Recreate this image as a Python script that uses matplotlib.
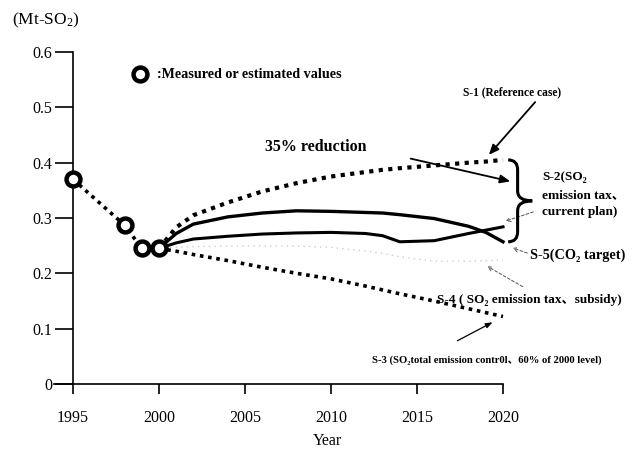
import matplotlib
matplotlib.use('Agg')
import matplotlib.pyplot as plt
from matplotlib.path import Path
from matplotlib.patches import PathPatch

plt.rcParams['font.family'] = ['Liberation Serif', 'DejaVu Serif', 'Noto Sans CJK JP']
plt.rcParams['mathtext.default'] = 'regular'

# ==============================
# Data
# ==============================
years_measured = [1995, 1998, 1999, 2000]
so2_measured = [0.37, 0.287, 0.245, 0.245]

proj_years = [2000, 2001, 2002, 2004, 2006, 2008, 2010, 2012, 2013, 2014, 2016, 2018, 2019, 2020]
s1_reference = [0.245, 0.283, 0.305, 0.328, 0.348, 0.363, 0.375, 0.383, 0.387, 0.390, 0.395, 0.400, 0.402, 0.405]
s3_total_control = [0.245, 0.240, 0.234, 0.223, 0.211, 0.200, 0.190, 0.177, 0.170, 0.163, 0.150, 0.136, 0.129, 0.122]
s5_co2_target = [0.245, 0.272, 0.289, 0.302, 0.309, 0.313, 0.312, 0.310, 0.309, 0.306, 0.299, 0.285, 0.274, 0.257]
s2_tax_plan = [0.245, 0.255, 0.262, 0.267, 0.271, 0.273, 0.274, 0.272, 0.268, 0.257, 0.259, 0.272, 0.278, 0.284]
s4_tax_subsidy = [0.245, 0.247, 0.248, 0.249, 0.250, 0.249, 0.247, 0.240, 0.236, 0.230, 0.222, 0.222, 0.223, 0.224]

x_ticks = [1995, 2000, 2005, 2010, 2015, 2020]
y_ticks = [0, 0.1, 0.2, 0.3, 0.4, 0.5, 0.6]
y_tick_labels = ['0', '0.1', '0.2', '0.3', '0.4', '0.5', '0.6']

W, H = 633, 455
fig = plt.figure(figsize=(W / 100, H / 100), dpi=100)
ax = fig.add_axes([73 / W, 1 - 384 / H, (503 - 73) / W, (384 - 52) / H])


def fp(x, y):
    # image pixel (from top-left) -> figure fraction
    return (x / W, 1 - y / H)


dot = (0, (1, 1.3))
ax.plot(years_measured, so2_measured, color='black', lw=2.6, ls=dot, zorder=3)
ax.plot(proj_years, s1_reference, color='black', lw=3.0, ls=dot, zorder=3, clip_on=False)
ax.plot(proj_years, s3_total_control, color='black', lw=2.6, ls=dot, zorder=3, clip_on=False)
ax.plot(proj_years, s4_tax_subsidy, color='#cccccc', lw=1.0, ls=(0, (1, 3)), zorder=2, clip_on=False)
ax.plot(proj_years, s5_co2_target, color='black', lw=2.4, zorder=3, clip_on=False)
ax.plot(proj_years, s2_tax_plan, color='black', lw=2.2, zorder=3, clip_on=False)
ax.plot(years_measured, so2_measured, 'o', ms=10, mew=3.2, mfc='white', mec='black', zorder=5, clip_on=False)

# curly bracket grouping the 2020 results
y_top, y_bot = s1_reference[-1], s5_co2_target[-1]
y_mid = (y_top + y_bot) / 2
xs, x0, xt, r = 2020.3, 2020.85, 2021.7, 0.018
verts = [(xs, y_top), (x0, y_top), (x0, y_top - r), (x0, y_mid + r), (x0, y_mid), (xt, y_mid),
         (x0, y_mid), (x0, y_mid - r), (x0, y_bot + r), (x0, y_bot), (xs, y_bot)]
codes = [Path.MOVETO, Path.CURVE3, Path.CURVE3, Path.LINETO, Path.CURVE3, Path.CURVE3,
         Path.CURVE3, Path.CURVE3, Path.LINETO, Path.CURVE3, Path.CURVE3]
ax.add_patch(PathPatch(Path(verts, codes), fill=False, lw=2.2, ec='black', clip_on=False, zorder=4))

# axes styling
ax.set_xlim(1995, 2020)
ax.set_ylim(0, 0.6)
for s in ['top', 'right']:
    ax.spines[s].set_visible(False)
ax.spines['left'].set_linewidth(1.2)
ax.spines['bottom'].set_linewidth(1.2)
ax.spines['bottom'].set_bounds(1995, 2020)
ax.set_xticks(x_ticks)
ax.set_xticklabels([str(v) for v in x_ticks])
ax.set_yticks(y_ticks)
ax.set_yticklabels(y_tick_labels)
ax.tick_params(axis='y', direction='out', length=13, width=1.2, pad=2, labelsize=11.5)
ax.tick_params(axis='x', direction='out', length=7, width=1.2, pad=12, labelsize=11.5)
# extend the x axis line to the left like the original
fig.add_artist(plt.Line2D([54 / W, 73 / W], [1 - 384 / H] * 2, color='black', lw=1.2))

fig.text(*fp(12, 20), '(Mt-SO$_2$)', fontsize=12.5, va='center', ha='left')
fig.text(*fp(327, 441), 'Year', fontsize=11.5, va='center', ha='center')

# legend
fig.add_artist(plt.Line2D([140 / W], [1 - 74 / H], marker='o', ms=10, mew=3.2, mfc='white', mec='black'))
fig.text(*fp(157, 74), ':Measured or estimated values', fontsize=10.2, fontweight='bold', va='center', ha='left')

tb = dict(fontweight='bold', va='center', ha='left')
fig.text(*fp(265, 147), '35% reduction', fontsize=11.5, **tb)
fig.text(*fp(463, 92), 'S-1 (Reference case)', fontsize=8.3, **tb)
fig.text(*fp(542, 177), 'S-2(SO₂', fontsize=9.5, **tb)
fig.text(*fp(542, 195), 'emission tax、', fontsize=9.5, **tb)
fig.text(*fp(542, 212), 'current plan)', fontsize=9.5, **tb)
fig.text(*fp(530, 255), 'S-5(CO₂ target)', fontsize=10.3, **tb)
fig.text(*fp(437, 300), 'S-4 ( SO₂ emission tax、subsidy)', fontsize=9.5, **tb)
fig.text(*fp(372, 360), 'S-3 (SO₂total emission contr0l、60% of 2000 level)', fontsize=7.7, **tb)

solid = dict(arrowstyle='-|>,head_length=0.6,head_width=0.25', color='black', lw=1.3)
thin = dict(arrowstyle='-|>,head_length=0.4,head_width=0.15', color='black', lw=0.9)
dashed = dict(arrowstyle='->,head_length=0.3,head_width=0.15', color='#555555', lw=0.7, ls=(0, (3, 2)))
ann = dict(xycoords='figure fraction', textcoords='figure fraction')
ax.annotate('', xy=fp(487, 157), xytext=fp(537, 100), arrowprops=solid, **ann)
ax.annotate('', xy=fp(513, 182), xytext=fp(408, 158), arrowprops=solid, **ann)
ax.annotate('', xy=fp(503, 222), xytext=fp(536, 211), arrowprops=dashed, **ann)
ax.annotate('', xy=fp(510, 247), xytext=fp(530, 254), arrowprops=dashed, **ann)
ax.annotate('', xy=fp(485, 265), xytext=fp(525, 288), arrowprops=dashed, **ann)
ax.annotate('', xy=fp(495, 321), xytext=fp(455, 342), arrowprops=thin, **ann)

fig.savefig('out.png', dpi=100)
